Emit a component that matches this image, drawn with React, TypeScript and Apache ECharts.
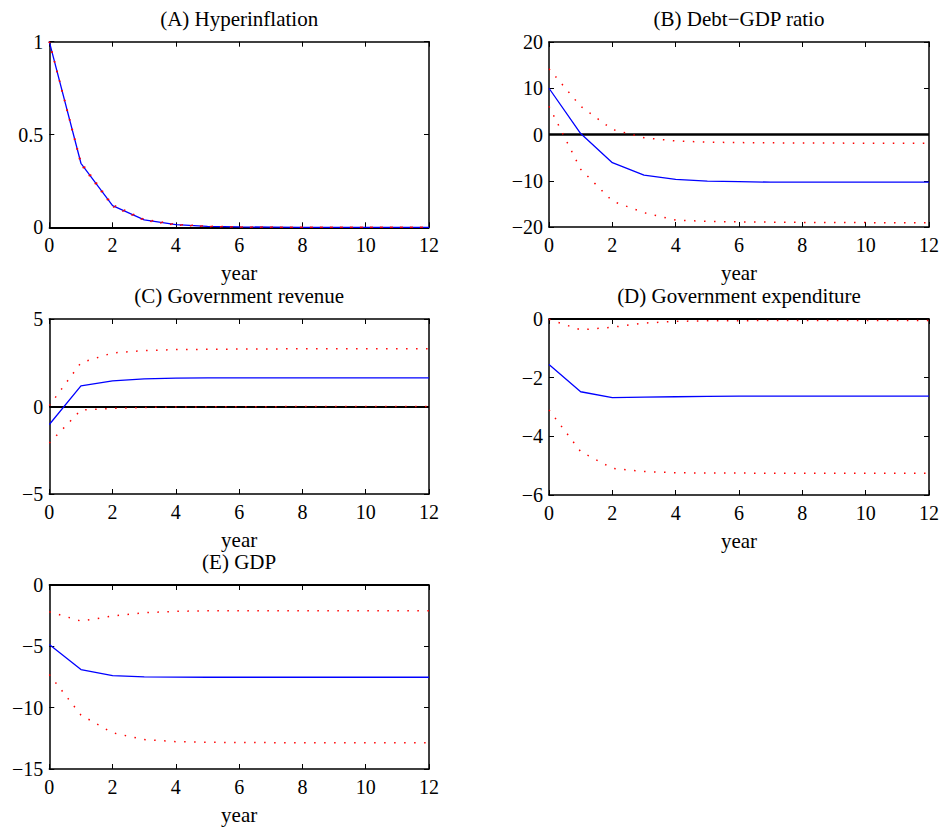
import React, { useEffect, useRef } from 'react';
import * as echarts from 'echarts';

const years = [0, 1, 2, 3, 4, 5, 6, 7, 8, 9, 10, 11, 12];

const hyperMid = [1, 0.345, 0.117, 0.04, 0.014, 0.005, 0.002, 0.001, 0, 0, 0, 0, 0];
const hyperUp = [1, 0.352, 0.122, 0.043, 0.016, 0.006, 0.002, 0.001, 0.0005, 0, 0, 0, 0];
const hyperLo = [1, 0.338, 0.112, 0.037, 0.012, 0.004, 0.001, 0, 0, 0, 0, 0, 0];

const debtMid = [10, 0.2, -6.1, -8.8, -9.7, -10.1, -10.2, -10.3, -10.3, -10.3, -10.3, -10.3, -10.3];
const debtUp = [14.2, 6.1, 1.1, -0.7, -1.4, -1.65, -1.75, -1.8, -1.85, -1.85, -1.9, -1.9, -1.9];
const debtLo = [6.1, -7.5, -14.4, -16.9, -18.5, -18.8, -18.9, -18.95, -19, -19, -19.05, -19.1, -19.1];

const revMid = [-1.03, 1.18, 1.46, 1.58, 1.62, 1.64, 1.64, 1.64, 1.64, 1.64, 1.64, 1.64, 1.64];
const revUp = [0.05, 2.5, 3.06, 3.2, 3.25, 3.27, 3.28, 3.29, 3.3, 3.3, 3.3, 3.3, 3.3];
const revLo = [-2.09, -0.2, -0.11, -0.06, -0.03, -0.02, -0.01, -0.01, 0, 0, 0, 0, 0];

const expMid = [-1.55, -2.48, -2.68, -2.66, -2.65, -2.64, -2.63, -2.63, -2.63, -2.63, -2.63, -2.63, -2.63];
const expUp = [-0.01, -0.37, -0.28, -0.14, -0.08, -0.06, -0.06, -0.05, -0.05, -0.05, -0.05, -0.05, -0.05];
const expLo = [-3.1, -4.52, -5.09, -5.2, -5.24, -5.25, -5.25, -5.26, -5.26, -5.26, -5.26, -5.26, -5.26];

const gdpMid = [-4.85, -6.89, -7.38, -7.49, -7.51, -7.52, -7.52, -7.52, -7.52, -7.52, -7.52, -7.52, -7.52];
const gdpUp = [-2.18, -2.94, -2.53, -2.26, -2.15, -2.1, -2.1, -2.1, -2.1, -2.1, -2.1, -2.1, -2.1];
const gdpLo = [-7.3, -10.6, -12.05, -12.6, -12.77, -12.82, -12.84, -12.85, -12.85, -12.85, -12.85, -12.85, -12.85];

const titles = [
  '(A) Hyperinflation',
  '(B) Debt\u2212GDP ratio',
  '(C) Government revenue',
  '(D) Government expenditure',
  '(E) GDP',
];
const xLabel = 'year';

const FONT = 'Liberation Serif';

type Panel = {
  title: string;
  left: number; top: number; width: number; height: number;
  yMin: number; yMax: number; yInt: number;
  mid: number[]; up: number[]; lo: number[];
  zeroW: number;
};

const panels: Panel[] = [
  { title: titles[0], left: 49.3, top: 41.7, width: 379.7, height: 185.6, yMin: 0, yMax: 1, yInt: 0.5, mid: hyperMid, up: hyperUp, lo: hyperLo, zeroW: 2 },
  { title: titles[1], left: 549, top: 42, width: 380, height: 185, yMin: -20, yMax: 20, yInt: 10, mid: debtMid, up: debtUp, lo: debtLo, zeroW: 2.5 },
  { title: titles[2], left: 49.3, top: 319, width: 379.7, height: 175, yMin: -5, yMax: 5, yInt: 5, mid: revMid, up: revUp, lo: revLo, zeroW: 2 },
  { title: titles[3], left: 549, top: 319, width: 380, height: 176, yMin: -6, yMax: 0, yInt: 2, mid: expMid, up: expUp, lo: expLo, zeroW: 2 },
  { title: titles[4], left: 49.3, top: 585, width: 379.7, height: 184, yMin: -15, yMax: 0, yInt: 5, mid: gdpMid, up: gdpUp, lo: gdpLo, zeroW: 2 },
];

const fmt = (v: number) => String(v).replace('-', '\u2212');

function buildOption() {
  const grid: any[] = [];
  const xAxis: any[] = [];
  const yAxis: any[] = [];
  const series: any[] = [];
  const graphic: any[] = [];
  const lineCol = '#000';

  panels.forEach((p, i) => {
    grid.push({ left: p.left, top: p.top, width: p.width, height: p.height, containLabel: false });
    const axisLine = { show: true, onZero: false, lineStyle: { color: lineCol, width: 1.5 } };
    const axisTick = { show: true, inside: true, length: 5, lineStyle: { color: lineCol, width: 1 } };
    const labelStyle = { fontFamily: FONT, fontSize: 20, color: '#000' };
    xAxis.push({
      gridIndex: i, type: 'value', min: 0, max: 12, interval: 2, position: 'bottom',
      axisLine, axisTick, splitLine: { show: false },
      axisLabel: { ...labelStyle, margin: 8, formatter: fmt },
    });
    xAxis.push({
      gridIndex: i, type: 'value', min: 0, max: 12, interval: 2, position: 'top',
      axisLine, axisTick, splitLine: { show: false }, axisLabel: { show: false },
    });
    yAxis.push({
      gridIndex: i, type: 'value', min: p.yMin, max: p.yMax, interval: p.yInt, position: 'left',
      axisLine, axisTick, splitLine: { show: false },
      axisLabel: { ...labelStyle, margin: 6, formatter: fmt },
    });
    yAxis.push({
      gridIndex: i, type: 'value', min: p.yMin, max: p.yMax, interval: p.yInt, position: 'right',
      axisLine, axisTick, splitLine: { show: false }, axisLabel: { show: false },
    });
    const xi = i * 2;
    const yi = i * 2;
    const toPairs = (arr: number[]) => years.map((x, k) => [x, arr[k]]);
    series.push({
      type: 'line', xAxisIndex: xi, yAxisIndex: yi, data: toPairs(p.mid),
      symbol: 'none', lineStyle: { color: '#0000ff', width: 1.3 }, z: 4,
      markLine: {
        silent: true, symbol: 'none', label: { show: false },
        lineStyle: { color: '#000', width: p.zeroW, type: 'solid' },
        data: [{ yAxis: 0 }], z: 3,
      },
    });
    series.push({
      type: 'line', xAxisIndex: xi, yAxisIndex: yi, data: toPairs(p.up),
      symbol: 'none', lineStyle: { color: '#ff0000', width: 1.5, type: [1.5, 8.5] }, z: 5,
    });
    series.push({
      type: 'line', xAxisIndex: xi, yAxisIndex: yi, data: toPairs(p.lo),
      symbol: 'none', lineStyle: { color: '#ff0000', width: 1.5, type: [1.5, 8.5] }, z: 5,
    });
    const cx = p.left + p.width / 2;
    graphic.push({
      type: 'text', x: cx, y: p.top - 23,
      style: { text: p.title, textAlign: 'center', textVerticalAlign: 'middle', fontFamily: FONT, fontSize: 21, fill: '#000' },
    });
    graphic.push({
      type: 'text', x: cx, y: p.top + p.height + 46,
      style: { text: xLabel, textAlign: 'center', textVerticalAlign: 'middle', fontFamily: FONT, fontSize: 21, fill: '#000' },
    });
  });

  return {
    animation: false,
    backgroundColor: '#fff',
    grid, xAxis, yAxis, series, graphic,
  };
}

export default function App() {
  const ref = useRef<HTMLDivElement>(null);
  useEffect(() => {
    if (!ref.current) return;
    const chart = echarts.init(ref.current, undefined, { renderer: 'svg' });
    chart.setOption(buildOption() as any);
    return () => chart.dispose();
  }, []);
  return (
    <div
      ref={ref}
      style={{ position: 'absolute', left: 0, top: 0, width: 943, height: 827, background: '#fff' }}
    />
  );
}
